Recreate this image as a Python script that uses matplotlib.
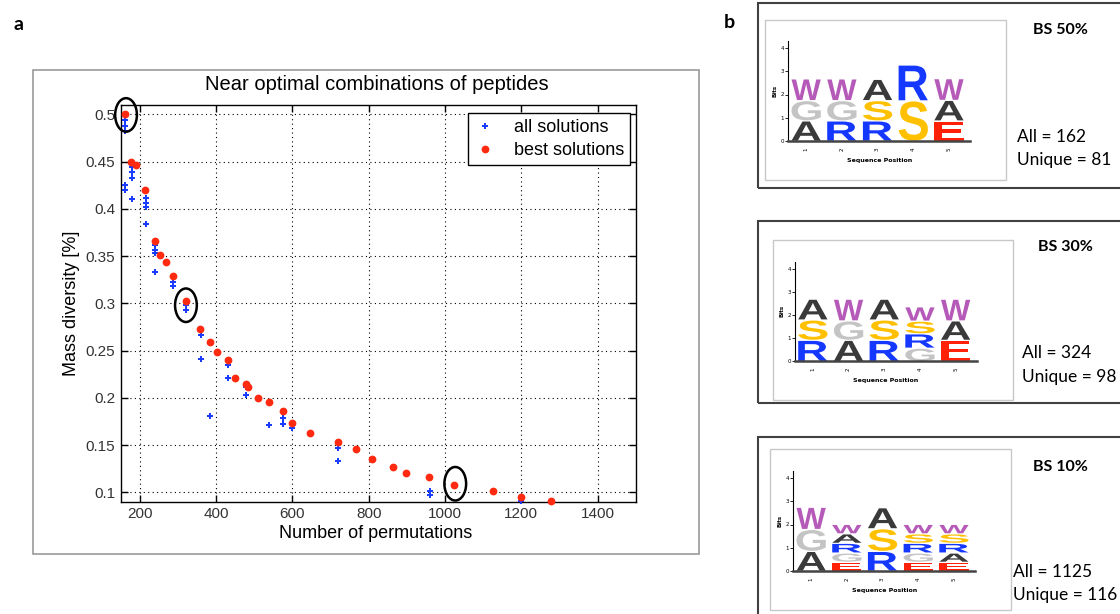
import matplotlib
matplotlib.use('Agg')
import matplotlib.pyplot as plt
import matplotlib.transforms as mtransforms
from matplotlib.patches import Rectangle, Ellipse, PathPatch
from matplotlib.textpath import TextPath
from matplotlib.font_manager import FontProperties

W, H = 1120, 614

# panel a: scatter data
all_x = [160, 160, 160, 160, 160, 180, 180, 180, 180, 216, 216, 216, 216,
         240, 240, 240, 240, 288, 288, 320, 320, 360, 360, 432, 432, 383,
         478, 478, 538, 576, 576, 600, 720, 720, 960, 960, 1200]
all_y = [0.494, 0.488, 0.482, 0.4255, 0.4195, 0.444, 0.439, 0.433, 0.410,
         0.412, 0.4067, 0.4018, 0.3837, 0.3617, 0.357, 0.3535, 0.3333,
         0.323, 0.318, 0.298, 0.2933, 0.2667, 0.2407, 0.2344, 0.2213, 0.181,
         0.211, 0.2029, 0.171, 0.179, 0.1727, 0.1684, 0.1472, 0.1326,
         0.1018, 0.0976, 0.0912]

best_x = [160, 178, 190, 215, 241, 254, 270, 287, 322, 358, 383, 403, 431,
          449, 478, 485, 510, 538, 576, 600, 647, 719, 767, 808, 864, 898,
          958, 1024, 1125, 1199, 1279]
best_y = [0.5, 0.45, 0.447, 0.420, 0.3656, 0.3514, 0.344, 0.3294, 0.302,
          0.2725, 0.2596, 0.2482, 0.24, 0.2213, 0.2142, 0.2114, 0.1997,
          0.1957, 0.1862, 0.1737, 0.1624, 0.1532, 0.1457, 0.1354, 0.1263,
          0.1202, 0.116, 0.1078, 0.1018, 0.095, 0.0904]

circle_x = [164, 321, 1027]
circle_y = [0.4995, 0.298, 0.109]

x_ticks = [200, 400, 600, 800, 1000, 1200, 1400]
y_ticks = [0.1, 0.15, 0.2, 0.25, 0.3, 0.35, 0.4, 0.45, 0.5]
y_tick_labels = ['0.1', '0.15', '0.2', '0.25', '0.3', '0.35', '0.4', '0.45', '0.5']

# panel b: sequence logos, stacks from bottom to top (letter, bits)
logo_50 = [[('A', 0.88), ('G', 0.88), ('W', 0.94)],
           [('R', 0.88), ('G', 0.88), ('W', 0.94)],
           [('R', 0.88), ('S', 0.88), ('A', 0.92)],
           [('S', 1.75), ('R', 1.55)],
           [('E', 0.88), ('A', 0.89), ('W', 0.94)]]
logo_30 = [[('R', 0.92), ('S', 0.88), ('A', 0.9)],
           [('A', 0.92), ('G', 0.84), ('W', 0.94)],
           [('R', 0.92), ('S', 0.88), ('A', 0.9)],
           [('G', 0.58), ('R', 0.62), ('S', 0.55), ('W', 0.62)],
           [('E', 0.92), ('A', 0.84), ('W', 0.94)]]
logo_10 = [[('A', 0.86), ('G', 0.95), ('W', 0.96)],
           [('E', 0.39), ('G', 0.40), ('R', 0.42), ('A', 0.41), ('W', 0.41)],
           [('R', 0.86), ('S', 0.98), ('A', 0.91)],
           [('E', 0.39), ('G', 0.40), ('R', 0.42), ('S', 0.41), ('W', 0.41)],
           [('E', 0.39), ('A', 0.40), ('R', 0.42), ('S', 0.41), ('W', 0.41)]]
logo_titles = ['BS 50%', 'BS 30%', 'BS 10%']
logo_all = [162, 324, 1125]
logo_unique = [81, 98, 116]

letter_colors = {'A': '#3a3a3a', 'G': '#c4c4c4', 'W': '#b55ab8', 'R': '#1438ff',
                 'S': '#ffc000', 'E': '#ff2208'}


def fx(px):
    return px / W


def fy(py):
    return 1 - py / H


fig = plt.figure(figsize=(W / 100, H / 100), dpi=100)

# outer frame of panel a
fig.patches.append(Rectangle((fx(33), fy(554)), (699 - 33) / W, (554 - 69.5) / H,
                             transform=fig.transFigure, fill=False,
                             ec='#9a9a9a', lw=1.2))
fig.text(fx(19), fy(24), 'a', family='Lato', weight='bold', fontsize=14,
         ha='center', va='center')
fig.text(fx(729), fy(22), 'b', family='Lato', weight='bold', fontsize=14,
         ha='center', va='center')

ax = fig.add_axes([fx(120.7), fy(501.7), (635.7 - 120.7) / W, (501.7 - 105) / H])
ax.set_xlim(150, 1500)
ax.set_ylim(0.09, 0.51)
ax.plot(all_x, all_y, 'P', color='#1a3cff', ms=4.3, mew=0, ls='none',
        clip_on=False, label='all solutions', zorder=3)
ax.plot(best_x, best_y, 'o', color='#ff2a10', ms=5.6, mew=0, ls='none',
        clip_on=False, label='best solutions', zorder=4)
for cx, cy in zip(circle_x, circle_y):
    ax.add_patch(Ellipse((cx, cy), 57, 0.0355, fill=False, ec='black', lw=1.8,
                         clip_on=False, zorder=5))

ax.set_xticks(x_ticks)
ax.set_yticks(y_ticks)
ax.set_yticklabels(y_tick_labels)
ax.grid(True, color='black', ls=(0, (1, 3)), lw=0.8)
ax.tick_params(direction='in', top=True, right=True, length=5, width=1,
               labelsize=11, pad=4, labelcolor='#333333')
for lab in ax.get_xticklabels() + ax.get_yticklabels():
    lab.set_family('Liberation Sans')
for s in ax.spines.values():
    s.set_linewidth(1)

leg = ax.legend(loc='upper right', bbox_to_anchor=(1 - 5.5 / 515, 1 - 7.5 / 396.7),
                borderaxespad=0, fancybox=False, framealpha=1, edgecolor='black',
                prop=FontProperties(family='Liberation Sans', size=13),
                handlelength=1.2, handletextpad=1.0, borderpad=0.35,
                labelspacing=0.35, markerscale=1.0)
leg.get_frame().set_linewidth(1)

fig.text(fx(377), fy(85), 'Near optimal combinations of peptides',
         family='Liberation Sans', fontsize=14.5, ha='center', va='center')
fig.text(fx(376), fy(533), 'Number of permutations',
         family='Liberation Sans', fontsize=13, ha='center', va='center')
fig.text(fx(72), fy(303), 'Mass diversity [%]', rotation=90,
         family='Liberation Sans', fontsize=13, ha='center', va='center')

# panel b frames
frames = [(3.3, 188), (220.7, 403), (436.7, 640)]
for top, bot in frames:
    fig.patches.append(Rectangle((fx(757.5), fy(bot)), (1130 - 757.5) / W,
                                 (bot - top) / H, transform=fig.transFigure,
                                 fill=False, ec='#404040', lw=1.5))

inner = [(765, 20, 1005.7, 180), (772.7, 240, 1013, 400), (770, 449.3, 1010.7, 610)]
for x0, y0, x1, y1 in inner:
    fig.patches.append(Rectangle((fx(x0), fy(y1)), (x1 - x0) / W, (y1 - y0) / H,
                                 transform=fig.transFigure, fill=False,
                                 ec='#c8c8c8', lw=1))

letter_font = FontProperties(family='Liberation Sans', weight='bold')


def draw_letter(lax, ch, x, y0, h, w=0.82):
    tp = TextPath((0, 0), ch, size=1, prop=letter_font)
    bb = tp.get_extents()
    t = (mtransforms.Affine2D().translate(-bb.x0, -bb.y0)
         .scale(w / bb.width, h / bb.height).translate(x - w / 2, y0))
    lax.add_patch(PathPatch(t.transform_path(tp), fc=letter_colors[ch],
                            ec='none', lw=0))


axis_pos = [(788.3, 140.7), (795, 361), (793.3, 570.7)]
text_pos = [(1060, 30, 1016.7, 136.7, 160), (1065, 246.7, 1021.7, 353.3, 376.7),
            (1060, 466.7, 1013.3, 572.3, 595)]
logos = [logo_50, logo_30, logo_10]
px_pos, px_bit = 35.7, 23.1

for logo, (apx, apy), title, n_all, n_uni, tp in zip(logos, axis_pos, logo_titles,
                                                      logo_all, logo_unique, text_pos):
    lax = fig.add_axes([fx(apx), fy(apy), 5.1 * px_pos / W, 4.3 * px_bit / H])
    lax.set_xlim(0.5, 5.6)
    lax.set_ylim(0, 4.3)
    lax.patch.set_alpha(0)
    for i, stack in enumerate(logo):
        base = 0
        for ch, h in stack:
            draw_letter(lax, ch, i + 1, base, h - 0.05)
            base += h
    lax.spines['top'].set_visible(False)
    lax.spines['right'].set_visible(False)
    lax.spines['left'].set_linewidth(0.8)
    lax.spines['bottom'].set_linewidth(1.8)
    lax.spines['bottom'].set_color('#444444')
    lax.set_xticks([1, 2, 3, 4, 5])
    lax.set_yticks([0, 1, 2, 3, 4])
    lax.set_xticklabels(['1', '2', '3', '4', '5'], rotation=90)
    lax.tick_params(axis='y', length=2, width=0.6, labelsize=4, pad=1)
    lax.tick_params(axis='x', length=0, labelsize=4, pad=5)
    lax.set_ylabel('Bits', fontsize=4, weight='bold', labelpad=2)
    lax.set_xlabel('Sequence Position', fontsize=4.5, weight='bold', labelpad=5)

    fig.text(fx(tp[0]), fy(tp[1]), title, family='Lato', weight='bold',
             fontsize=11.5, ha='center', va='center')
    fig.text(fx(tp[2]), fy(tp[3]), 'All = %d' % n_all, family='Lato',
             fontsize=12.5, ha='left', va='center')
    fig.text(fx(tp[2]), fy(tp[4]), 'Unique = %d' % n_uni, family='Lato',
             fontsize=12.5, ha='left', va='center')

fig.savefig('out.png', dpi=100)
